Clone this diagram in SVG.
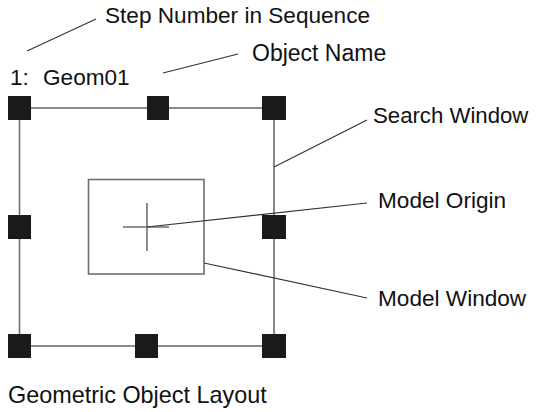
<svg xmlns="http://www.w3.org/2000/svg" width="537" height="412" viewBox="0 0 537 412">
<style>
text{font-family:"Liberation Sans",Arial,sans-serif;font-size:22.6px;fill:#111}
.frame{stroke:#6e6e6e;stroke-width:1.6;fill:none}
.lead{stroke:#333;stroke-width:1.2;fill:none}
.h{fill:#1a1a1a}
</style>
<rect width="537" height="412" fill="#fff"/>
<g id="search-window">
<rect class="frame" x="19.5" y="108" width="254.5" height="238"/>
</g>
<g id="handles">
<rect class="h" x="8" y="96" width="23" height="24"/>
<rect class="h" x="147" y="96" width="22" height="24"/>
<rect class="h" x="262" y="96" width="24" height="24"/>
<rect class="h" x="8" y="215" width="23" height="24"/>
<rect class="h" x="262" y="215" width="24" height="24"/>
<rect class="h" x="8" y="334" width="23" height="24"/>
<rect class="h" x="135" y="334" width="23" height="24"/>
<rect class="h" x="262" y="334" width="24" height="24"/>
</g>
<g id="model-window">
<rect class="frame" x="88.5" y="179.5" width="115.5" height="94.5" stroke-width="1.3"/>
</g>
<g id="model-origin">
<line class="frame" x1="123" y1="227" x2="169" y2="227" stroke-width="1.3"/>
<line class="frame" x1="147" y1="203" x2="147" y2="251" stroke-width="1.3"/>
</g>
<g id="connectors">
<line class="lead" x1="27" y1="51" x2="96" y2="19"/>
<line class="lead" x1="163" y1="73" x2="238" y2="54"/>
<line class="lead" x1="274" y1="167" x2="367" y2="120"/>
<line class="lead" x1="147" y1="227" x2="367" y2="203"/>
<line class="lead" x1="204" y1="263" x2="367" y2="298"/>
</g>
<g id="labels">
<text x="105" y="23">Step Number in Sequence</text>
<text x="252" y="61" style="font-size:23px">Object Name</text>
<text x="10" y="85">1:<tspan x="43">Geom01</tspan></text>
<text x="373" y="123" style="font-size:22.2px">Search Window</text>
<text x="378" y="208">Model Origin</text>
<text x="378" y="306">Model Window</text>
<text x="8" y="403" style="font-size:23.4px">Geometric Object Layout</text>
</g>
</svg>
